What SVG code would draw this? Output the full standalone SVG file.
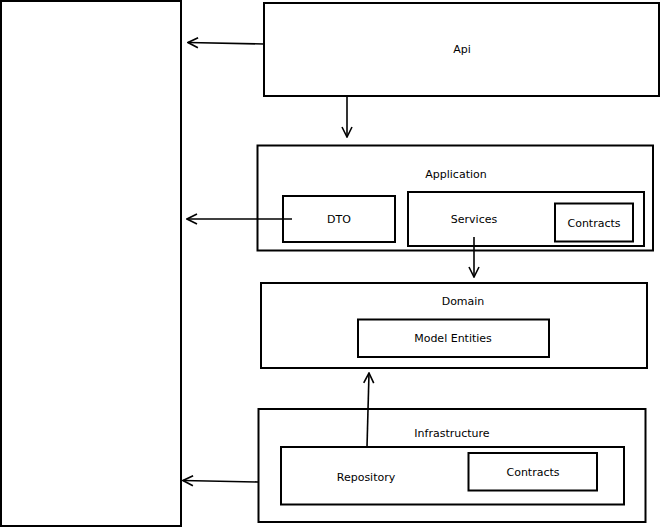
<svg xmlns="http://www.w3.org/2000/svg" width="661" height="527" viewBox="0 0 661 527">
<defs>
<style>
.box{fill:#fff;stroke:#000;stroke-width:2}
.lbl{font-family:"DejaVu Sans",Verdana,sans-serif;font-size:11px;fill:#000;text-anchor:middle;dominant-baseline:central}
.con{stroke:#000;stroke-width:1.6;fill:none}
</style>
<marker id="arr" viewBox="0 0 12 12" refX="11" refY="6" markerWidth="12" markerHeight="12" markerUnits="userSpaceOnUse" orient="auto">
<path d="M1,1 L11,6 L1,11" fill="none" stroke="#000" stroke-width="1.6"/>
</marker>
</defs>
<rect width="661" height="527" fill="#fff"/>
<g id="consumer"><rect class="box" x="1" y="1" width="180" height="525"/></g>
<g id="api"><rect class="box" x="264" y="3" width="395" height="93"/><text class="lbl" x="462" y="49">Api</text></g>
<g id="application"><rect class="box" x="257.5" y="145.5" width="395.5" height="105"/><text class="lbl" x="456" y="174">Application</text>
<g id="dto"><rect class="box" x="283" y="196" width="112" height="46"/><text class="lbl" x="339" y="219">DTO</text></g>
<g id="services"><rect class="box" x="408" y="192" width="236" height="54"/><text class="lbl" x="474" y="219">Services</text>
<g id="app-contracts"><rect class="box" x="555" y="203.5" width="78" height="38"/><text class="lbl" x="594" y="223">Contracts</text></g></g></g>
<g id="domain"><rect class="box" x="261" y="283" width="386" height="85"/><text class="lbl" x="463" y="301">Domain</text>
<g id="model"><rect class="box" x="358" y="319.5" width="191" height="37.5"/><text class="lbl" x="453" y="338">Model Entities</text></g></g>
<g id="infrastructure"><rect class="box" x="258.5" y="409" width="387" height="113"/><text class="lbl" x="452" y="433">Infrastructure</text>
<g id="repository"><rect class="box" x="281" y="447" width="343" height="57.5"/><text class="lbl" x="366" y="477">Repository</text>
<g id="infra-contracts"><rect class="box" x="468.5" y="453" width="128.5" height="37.5"/><text class="lbl" x="533" y="472">Contracts</text></g></g></g>
<g id="connectors">
<line class="con" x1="264" y1="44" x2="188" y2="42.5" marker-end="url(#arr)"/>
<line class="con" x1="347" y1="96" x2="347" y2="137" marker-end="url(#arr)"/>
<line class="con" x1="292" y1="219" x2="187" y2="219" marker-end="url(#arr)"/>
<line class="con" x1="474" y1="237" x2="474" y2="277" marker-end="url(#arr)"/>
<line class="con" x1="367" y1="447" x2="369" y2="373" marker-end="url(#arr)"/>
<line class="con" x1="258" y1="482" x2="183" y2="480.5" marker-end="url(#arr)"/>
</g>
</svg>
